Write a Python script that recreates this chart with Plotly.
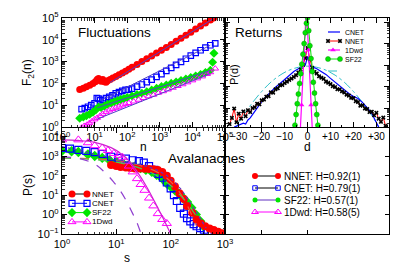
import plotly.graph_objects as go

W, H = 402, 266
FONT = "Liberation Sans, Arial, Helvetica, sans-serif"

# ---------------- Fluctuations: F2(n) ----------------
fl_nnet_n = [3.5, 4.5, 5.6, 7.1, 8.9, 10.5, 12, 13.2, 14.5, 15.8, 17.8, 20, 22.4, 25, 30, 36, 45, 56, 71, 89,
             112, 141, 200, 282, 398, 562, 794, 1122, 1585, 2239, 3162, 4467, 6310, 8913, 12589, 17783, 25119, 35481, 44668]
fl_nnet_F = [52, 60, 71, 83, 100, 120, 151, 166, 141, 126, 151, 120, 112, 132, 151, 178, 209, 251, 302, 363,
             447, 550, 741, 1000, 1349, 1820, 2455, 3311, 4467, 6166, 8511, 11749, 16218, 22387, 30903, 42658, 58884, 81283, 100000]
fl_cnet_n = [4.0, 5.0, 6.3, 7.9, 10, 11.7, 13.2, 14.8, 17.8, 22.4, 28.2, 35.5, 44.7, 56.2, 70.8, 89.1, 112, 141,
             200, 282, 398, 562, 794, 1122, 1585, 2239, 3162, 4467, 6310, 8913, 12589, 17783, 25119, 35481, 50119]
fl_cnet_F = [6.6, 7.4, 8.5, 10, 12, 21, 20, 16.6, 17.8, 21, 24, 28, 35, 40, 45, 50, 52, 58,
             71, 89, 115, 148, 200, 269, 372, 513, 708, 977, 1349, 1862, 2512, 3311, 4365, 5623, 6918]
fl_sf22_n = [3.5, 4.5, 5.6, 7.1, 8.9, 11.2, 13.2, 15.8, 20, 25, 32, 40, 50, 63, 79, 100, 141, 200,
             282, 398, 562, 794, 1122, 1585, 2239, 3162, 4467, 6310, 8913, 12589, 17783, 25119, 35481, 41687, 45709]
fl_sf22_F = [2.5, 2.9, 3.3, 3.9, 4.8, 6.3, 8.3, 7.9, 9.1, 11, 12.6, 14.5, 16.2, 18.2, 20.4, 22.4, 26.3, 30.9,
             35.5, 41.7, 49, 58.9, 70.8, 85.1, 100, 115, 135, 158, 186, 219, 257, 316, 398, 933, 2399]
fl_1dwd_n = [4.0, 4.8, 5.8, 6.9, 8.3, 10, 12, 14.8, 17.8, 22.4, 28.2, 35.5, 44.7, 56.2, 70.8, 89.1, 112, 158,
             224, 316, 447, 631, 891, 1259, 1778, 2512, 3548, 5012, 7079, 10000, 14125, 19953, 28184, 35481, 50119]
fl_1dwd_F = [0.93, 1.12, 1.26, 1.51, 1.82, 2.24, 2.63, 3.24, 3.98, 4.79, 5.75, 6.61, 7.59, 8.51, 9.77, 11.2, 12.6, 14.8,
             17.8, 21.4, 25.7, 30.2, 37.2, 43.7, 52.5, 63.1, 75.9, 91.2, 112, 138, 170, 209, 269, 324, 479]
fl_fit_nnet_n, fl_fit_nnet_F = [30, 44668], [110, 95000]
fl_fit_cnet_n, fl_fit_cnet_F = [15, 35481], [16, 5623]
fl_fit_sf22_n, fl_fit_sf22_F = [12, 35481], [7.6, 398]
fl_fit_1dwd_n, fl_fit_1dwd_F = [12, 35481], [2.3, 282]

# ---------------- Returns: P(d) ----------------
rt_nnet_d = [-34, -33, -32, -31, -30, -29, -28, -27, -26, -25, -24, -23, -22, -21, -20, -19, -18, -17, -16, -15,
             -14, -13, -12, -11, -10, -9, -8, -7, -6, -5, -4, -3, -2, -1, 0, 1, 2, 3, 4, 5, 6, 7, 8, 9, 10,
             11, 12, 13, 14, 15, 16, 17, 18, 19, 20, 21, 22, 23, 24, 25, 26, 27, 28, 29, 30, 31, 32, 33, 34]
rt_nnet_P = [1.8e-6, 3.5e-6, 9.5e-6, 2.2e-6, 5.5e-6, 3.2e-6, 7.0e-6, 4.2e-6, 8.0e-6, 6.5e-6, 1.0e-5, 1.1e-5,
             1.6e-5, 1.5e-5, 2.3e-5, 2.5e-5, 3.4e-5, 3.6e-5, 5.4e-5, 5.2e-5, 7.5e-5, 8.3e-5, 1.15e-4, 1.2e-4,
             1.45e-4, 1.7e-4, 2.05e-4, 2.35e-4, 2.8e-4, 3.4e-4, 4.5e-4, 6.3e-4, 1.0e-3, 2.1e-3, 6.2e-3,
             1.9e-3, 7.5e-4, 4.8e-4, 4.1e-4, 3.0e-4, 2.6e-4, 2.3e-4, 1.7e-4, 1.5e-4, 1.3e-4, 1.05e-4, 9.5e-5,
             7.6e-5, 7.4e-5, 6.0e-5, 5.3e-5, 4.2e-5, 3.8e-5, 3.0e-5, 2.9e-5, 2.1e-5, 1.9e-5, 1.3e-5, 1.35e-5,
             9.5e-6, 9.0e-6, 6.5e-6, 6.8e-6, 4.6e-6, 6.0e-6, 3.2e-6, 2.3e-6, 3.6e-6, 1.5e-6]
rt_cnet_d = [-32, -30, -28, -27, -26, -25, -24, -22, -20, -18, -16, -14, -12, -10, -8, -6, -4, -2, -1, 0,
             1, 2, 4, 6, 8, 10, 12, 14, 16, 18, 20, 22, 24, 26, 27, 28, 29, 30, 31]
rt_cnet_P = [1.3e-6, 1.6e-6, 2.0e-6, 1.8e-6, 2.8e-6, 3.5e-6, 5.0e-6, 1.1e-5, 2.0e-5, 3.5e-5, 6.0e-5, 9.3e-5,
             1.4e-4, 2.2e-4, 3.5e-4, 5.0e-4, 6.8e-4, 8.3e-4, 1.0e-3, 2.5e-3, 1.0e-3, 8.3e-4, 6.8e-4, 5.2e-4,
             3.7e-4, 2.4e-4, 1.6e-4, 1.05e-4, 7.1e-5, 4.8e-5, 3.5e-5, 2.8e-5, 1.8e-5, 1.1e-5, 7.9e-6, 5.6e-6,
             3.5e-6, 2.0e-6, 1.3e-6]
rt_gauss_d = [-36, -32, -28, -24, -20, -16, -12, -8, -4, 0, 4, 8, 12, 16, 20, 24, 28, 32, 36]
rt_gauss_P = [1.4e-7, 8.7e-7, 4.5e-6, 1.8e-5, 5.9e-5, 1.6e-4, 3.4e-4, 5.8e-4, 7.9e-4, 8.9e-4,
              7.9e-4, 5.8e-4, 3.4e-4, 1.6e-4, 5.9e-5, 1.8e-5, 4.5e-6, 8.7e-7, 1.4e-7]
rt_sf22_d = [-5.5, -5, -4.5, -4, -3.5, -3, -2.5, -2, -1.5, -1, -0.5, 0, 0.5, 1, 1.5, 2, 2.5, 3, 3.5, 4, 4.5]
rt_sf22_P = [1.6e-6, 5.0e-6, 1.6e-5, 4.5e-5, 1.4e-4, 4.0e-4, 1.1e-3, 3.2e-3, 0.01, 0.032, 0.089, 0.16,
             0.04, 7.9e-3, 2.0e-3, 5.0e-4, 1.6e-4, 5.0e-5, 1.6e-5, 5.0e-6, 1.6e-6]
rt_1dwd_d = [-3.4, -2.6, -1.4, -0.5, 0.4, 1.5, 2.3]
rt_1dwd_P = [3e-7, 1.4e-5, 4e-3, 0.6, 5e-3, 1.4e-5, 3e-7]

# ---------------- Avalanches: P(s) ----------------
av_nnet_s = [8, 10, 12, 15, 18, 22, 27, 33, 40, 48, 58, 70, 85, 100, 120, 145, 175, 200, 250, 300, 360, 430, 520, 620, 750, 900]
av_nnet_P = [355, 316, 282, 263, 251, 240, 240, 229, 224, 214, 200, 158, 100, 56, 28, 12.6, 6.3, 2.8, 1.26,
             0.56, 0.35, 0.25, 0.19, 0.16, 0.13, 0.11]
av_cnet_s = [1, 1.4, 2, 2.8, 4, 5.6, 8, 11, 15, 20, 26, 32, 40, 50, 60, 72, 85, 100, 115, 130, 150, 175, 200,
             230, 265, 300, 350, 410, 480]
av_cnet_P = [2692, 2512, 2138, 1905, 1660, 1318, 955, 832, 759, 631, 562, 479, 316, 200, 126, 79, 45, 22.4, 10,
             5.0, 2.24, 1.12, 0.65, 0.45, 0.32, 0.25, 0.2, 0.166, 0.141]
av_sf22_s = [1, 1.5, 2, 3, 4, 5.5, 7.5, 10, 13, 17, 22, 28, 35, 45, 55, 70, 85, 100, 120, 145, 170, 200, 240, 290, 350, 400]
av_sf22_P = [1905, 1820, 1660, 1259, 1047, 832, 631, 525, 447, 355, 302, 251, 200, 158, 112, 71, 40, 28, 17.8,
             11.2, 7.1, 4.5, 2.24, 1.0, 0.45, 0.25]
av_1dwd_s = [1, 2, 3, 4, 5.5, 7, 9, 11, 13, 15, 17, 20, 24, 28, 33, 40, 48, 58, 70, 85]
av_1dwd_P = [7079, 7079, 5012, 3548, 2692, 1995, 1413, 1122, 891, 562, 316, 158, 71, 35.5, 17.8, 7.1, 2.8, 1.12, 0.56, 0.35]
av_fit_1dwd_s = [1, 2, 4, 8, 12, 18, 25, 35, 50, 70, 100]
av_fit_1dwd_P = [7079, 6607, 5248, 2818, 1413, 501, 141, 31.6, 5.0, 0.79, 0.1]
av_gauss_s = [1, 2, 4, 6, 8.8, 12, 15.5, 20, 23.6, 29]
av_gauss_P = [933, 794, 398, 158, 50, 15.8, 4.7, 1.12, 0.43, 0.089]
av_fit_dot_s = [1, 3, 10, 30, 60, 100, 150, 200, 300, 450]
av_fit_dot_P = [3162, 1585, 708, 355, 178, 71, 22.4, 7.1, 1.26, 0.2]
av_fit_green_s = [1, 3, 10, 30, 60, 100, 150, 200, 300]
av_fit_green_P = [832, 708, 501, 224, 89, 31.6, 10, 4.0, 0.79]
av_fit_red_s = [1, 2, 4, 8, 15, 30, 60, 100, 150, 200, 300]
av_fit_red_P = [832, 794, 741, 631, 501, 316, 141, 50, 12.6, 3.2, 0.25]

hurst_labels = ["NNET: H=0.92(1)", "CNET: H=0.79(1)", "SF22: H=0.57(1)", "1Dwd: H=0.58(5)"]

RED, BLUE, GREEN, MAG = "#ff0000", "#0000ff", "#00e600", "#ff00ff"
FIT = "#5040c8"

fig = go.Figure()

def sc(x, y, ax, **kw):
    fig.add_trace(go.Scatter(x=x, y=y, xaxis="x" + ax, yaxis="y" + ax, showlegend=False,
                             hoverinfo="skip", **kw))

# Fluctuations
sc(fl_nnet_n, fl_nnet_F, "", mode="markers", marker=dict(symbol="circle", size=7, color=RED))
sc(fl_cnet_n, fl_cnet_F, "", mode="markers",
   marker=dict(symbol="square-open", size=5.5, color=BLUE, line=dict(width=1.2)))
sc(fl_sf22_n, fl_sf22_F, "", mode="markers", marker=dict(symbol="diamond", size=7, color=GREEN))
sc(fl_1dwd_n, fl_1dwd_F, "", mode="markers",
   marker=dict(symbol="triangle-up-open", size=6, color=MAG, line=dict(width=1)))
for fx, fy in [(fl_fit_nnet_n, fl_fit_nnet_F), (fl_fit_cnet_n, fl_fit_cnet_F),
               (fl_fit_sf22_n, fl_fit_sf22_F), (fl_fit_1dwd_n, fl_fit_1dwd_F)]:
    sc(fx, fy, "", mode="lines", line=dict(color=FIT, width=1))

# Returns
sc(rt_gauss_d, rt_gauss_P, "2", mode="lines", line=dict(color="#30c0c8", width=1, dash="dashdot", shape="spline"))
sc(rt_cnet_d, rt_cnet_P, "2", mode="lines", line=dict(color=BLUE, width=1.2))
sc(rt_nnet_d, rt_nnet_P, "2", mode="lines+markers", line=dict(color=RED, width=1),
   marker=dict(symbol="x", size=4, color="black"))
sc(rt_1dwd_d, rt_1dwd_P, "2", mode="lines+markers", line=dict(color=MAG, width=1.2),
   marker=dict(symbol="triangle-up", size=5, color=MAG))
sc(rt_sf22_d, rt_sf22_P, "2", mode="lines+markers", line=dict(color=GREEN, width=1),
   marker=dict(symbol="circle", size=5, color=GREEN, line=dict(color="#109010", width=0.5)))

# Avalanches
sc(av_sf22_s, av_sf22_P, "3", mode="markers", marker=dict(symbol="diamond", size=8, color=GREEN))
sc(av_cnet_s, av_cnet_P, "3", mode="markers",
   marker=dict(symbol="square-open", size=7, color=BLUE, line=dict(width=1.2)))
sc(av_nnet_s, av_nnet_P, "3", mode="markers", marker=dict(symbol="circle", size=8, color=RED))
sc(av_1dwd_s, av_1dwd_P, "3", mode="markers",
   marker=dict(symbol="triangle-up-open", size=8, color=MAG, line=dict(width=1)))
sc(av_fit_red_s, av_fit_red_P, "3", mode="lines", line=dict(color="#e86040", width=1.2, dash="dash", shape="spline"))
sc(av_fit_green_s, av_fit_green_P, "3", mode="lines", line=dict(color="#50c850", width=1.2, dash="dash", shape="spline"))
sc(av_fit_dot_s, av_fit_dot_P, "3", mode="lines", line=dict(color="#6030c0", width=1.2, dash="dot", shape="spline"))
sc(av_gauss_s, av_gauss_P, "3", mode="lines", line=dict(color="#9040d0", width=1.2, dash="dash", shape="spline"))
sc(av_fit_1dwd_s, av_fit_1dwd_P, "3", mode="lines", line=dict(color="#d020d0", width=1.2, shape="spline"))

# empty bottom-right box
sc([], [], "4", mode="markers")

# ---------------- legends (drawn in pixel space) ----------------
def key(x0, x1, y, lcolor, lw=1, dash="solid", marker=None, mxs=None):
    sc([x0, x1], [y, y], "5", mode="lines", line=dict(color=lcolor, width=lw, dash=dash))
    if marker is not None:
        xs = mxs if mxs is not None else [x0, x1]
        sc(xs, [y] * len(xs), "5", mode="markers", marker=marker)

annotations = []
def txt(x, y, s, size, xanchor="left", **kw):
    annotations.append(dict(x=x, y=y, xref="x5", yref="y5", text=s, showarrow=False, xanchor=xanchor,
                            yanchor="middle", font=dict(size=size, family=FONT, color="black"), **kw))

# Returns legend
rl_x0, rl_x1, rl_tx = 328, 340, 343
key(rl_x0, rl_x1, 32, BLUE, 1.2)
txt(rl_tx, 32, "CNET", 7)
key(rl_x0, rl_x1, 41, RED, 1, marker=dict(symbol="x", size=4, color="black"))
txt(rl_tx, 41, "NNET", 7)
key(rl_x0, rl_x1, 50, MAG, 1.2, marker=dict(symbol="triangle-up", size=5, color=MAG), mxs=[333])
txt(rl_tx, 50, "1Dwd", 7)
key(rl_x0, rl_x1, 59, GREEN, 1, marker=dict(symbol="circle", size=5, color=GREEN, line=dict(color="#109010", width=0.5)))
txt(rl_tx, 59, "SF22", 7)
key(rl_x0, rl_x1, 71, "#30c0c8", 1, dash="dashdot")

# Avalanche legend
al_x0, al_x1, al_tx = 72, 87, 90
al_items = [("NNET", "black", dict(symbol="circle", size=7, color=RED)),
            ("CNET", BLUE, dict(symbol="square-open", size=6, color=BLUE, line=dict(width=1.2))),
            ("SF22", GREEN, dict(symbol="diamond", size=7, color=GREEN)),
            ("1Dwd", MAG, dict(symbol="triangle-up-open", size=7, color=MAG, line=dict(width=1)))]
for i, (name, lc, mk) in enumerate(al_items):
    yy = 194 + i * 9.3
    key(al_x0, al_x1, yy, lc, 1, marker=mk)
    txt(al_tx, yy, name, 8)

# Hurst legend
hl_x0, hl_x1, hl_tx = 255, 278, 282
hl_items = [("black", dict(symbol="circle", size=6, color=RED)),
            ("black", dict(symbol="square-open", size=4.5, color=BLUE, line=dict(width=1))),
            ("#6030c0", dict(symbol="circle", size=5, color=GREEN)),
            (MAG, dict(symbol="triangle-up-open", size=6, color=MAG, line=dict(width=1)))]
for i, ((lc, mk), lab) in enumerate(zip(hl_items, hurst_labels)):
    yy = 176 + i * 12
    key(hl_x0, hl_x1, yy, lc, 1, marker=mk)
    txt(hl_tx, yy, lab, 10)

# titles / axis titles
txt(76, 32, "Fluctuations", 13.5)
txt(233, 32, "Returns", 13.5)
txt(166, 158, "Avalanaches", 13.5)
txt(28, 73, "F<sub>2</sub>(n)", 12, xanchor="center", textangle=-90)
txt(28, 185, "P(s)", 12, xanchor="center", textangle=-90)
txt(234, 75, "P(d)", 11, xanchor="center", textangle=-90)
txt(143, 147, "n", 12, xanchor="center")
txt(307, 147, "d", 12, xanchor="center")
txt(127, 258, "s", 12, xanchor="center")

# ---------------- axes ----------------
def pxx(p):
    return p / W

def pxy(p):
    return 1 - p / H

def sup(e):
    return "10<sup>%s</sup>" % e

base = dict(showline=True, linecolor="black", linewidth=1.2, mirror="ticks", ticks="inside",
            tickcolor="black", tickwidth=1, ticklen=5, showgrid=False, zeroline=False, automargin=False,
            tickfont=dict(size=11, family=FONT, color="black"))
logminor = dict(ticks="inside", ticklen=2.5, dtick="D1", tickcolor="black", tickwidth=0.8, showgrid=False)

TOP = [pxy(127), pxy(18)]
BOT = [pxy(234), pxy(128)]
LEFT = [pxx(62), pxx(225)]
RIGHT = [pxx(225), pxx(389)]

fig.update_layout(
    template="none",
    width=W, height=H, autosize=False,
    margin=dict(l=0, r=0, t=0, b=0, pad=0),
    paper_bgcolor="white", plot_bgcolor="rgba(0,0,0,0)",
    showlegend=False,
    font=dict(family=FONT, color="black"),
    xaxis=dict(base, type="log", range=[0, 5], domain=LEFT, anchor="y",
               tickvals=[1, 10, 100, 1000, 1e4, 1e5], ticktext=[sup(i) for i in range(6)], minor=logminor),
    yaxis=dict(base, type="log", range=[0, 5], domain=TOP, anchor="x",
               tickvals=[1, 10, 100, 1000, 1e4, 1e5], ticktext=[sup(i) for i in range(6)], minor=logminor),
    xaxis2=dict(base, range=[-36, 35.5], domain=RIGHT, anchor="y2",
                tickvals=[-30, -20, -10, 0, 10, 20, 30],
                ticktext=["\u221230", "\u221220", "\u221210", "0", "+10", "+20", "+30"],
                tickfont=dict(size=10, family=FONT, color="black"),
                minor=dict(ticks="inside", ticklen=2.5, dtick=5, tickcolor="black", showgrid=False)),
    yaxis2=dict(base, type="log", range=[-5.88, -0.81], domain=TOP, anchor="x2", showticklabels=False,
                tickvals=[1e-5, 1e-4, 1e-3, 1e-2, 1e-1], minor=logminor),
    xaxis3=dict(base, type="log", range=[0, 3], domain=LEFT, anchor="y3",
                tickvals=[1, 10, 100, 1000], ticktext=[sup(i) for i in range(4)], minor=logminor),
    yaxis3=dict(base, type="log", range=[-1, 4.46], domain=BOT, anchor="x3",
                tickvals=[0.1, 1, 10, 100, 1000, 1e4], ticktext=[sup(i) for i in ["\u22121", 0, 1, 2, 3, 4]],
                minor=logminor),
    xaxis4=dict(base, range=[-36, 35.5], domain=RIGHT, anchor="y4", showticklabels=False,
                tickvals=[-20, 0], ticklen=4),
    yaxis4=dict(base, type="log", range=[-1, 4.46], domain=BOT, anchor="x4", showticklabels=False,
                tickvals=[1, 10, 100, 1000], ticklen=4),
    xaxis5=dict(range=[0, W], domain=[0, 1], anchor="y5", visible=False, fixedrange=True, automargin=False),
    yaxis5=dict(range=[H, 0], domain=[0, 1], anchor="x5", visible=False, fixedrange=True, automargin=False),
    annotations=annotations,
)

fig.write_html("out.html", config={"displayModeBar": False, "staticPlot": True},
               post_script="document.body.style.margin='0px';document.body.style.padding='0px';")
